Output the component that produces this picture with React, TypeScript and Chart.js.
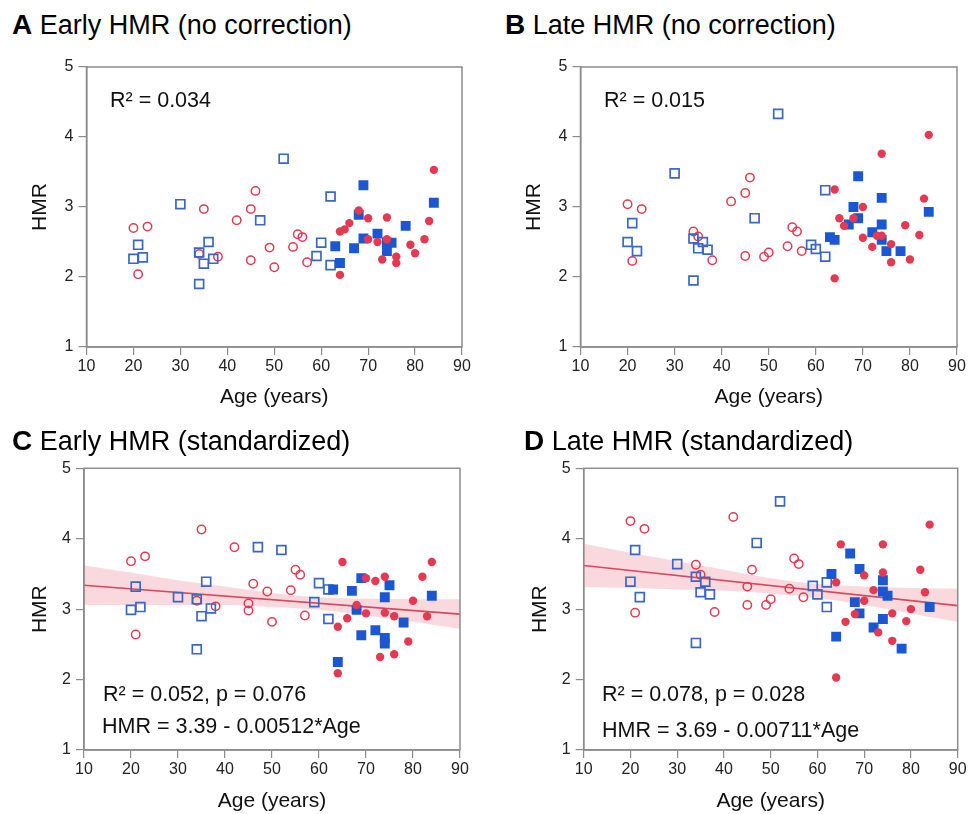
import React, { useEffect, useRef } from "react";
import { Chart, registerables } from "chart.js";
Chart.register(...registerables);

type Pt = [number, number];

// ---------- DATA (age, HMR) ----------
const A_openCircles: Pt[] = [[20,2.70],[23,2.72],[21,2.04],[35,2.97],[34,2.33],[38,2.29],[42,2.81],[45,2.97],[46,3.23],[45,2.24],[49,2.42],[50,2.14],[54,2.43],[55,2.61],[56,2.57],[57,2.21]];
const A_openSquares: Pt[] = [[21,2.46],[20,2.26],[22,2.28],[30,3.04],[36,2.50],[34,2.35],[35,2.19],[37,2.26],[34,1.90],[47,2.81],[52,3.69],[62,3.15],[60,2.49],[59,2.30],[62,2.17]];
const A_filledSquares: Pt[] = [[69,3.31],[84,3.06],[68,2.89],[78,2.73],[72,2.62],[69,2.55],[63,2.44],[67,2.41],[74,2.49],[75,2.49],[74,2.37],[64,2.20]];
const A_filledCircles: Pt[] = [[84,3.53],[68,2.95],[70,2.84],[74,2.85],[66,2.77],[65,2.68],[64,2.65],[83,2.80],[70,2.54],[72,2.50],[74,2.54],[82,2.54],[79,2.46],[80,2.34],[73,2.25],[76,2.29],[76,2.20],[64,2.03]];

const B_openCircles: Pt[] = [[20,3.04],[23,2.97],[21,2.23],[34,2.65],[35,2.58],[38,2.24],[42,3.08],[45,3.20],[46,3.42],[45,2.30],[49,2.29],[50,2.35],[54,2.44],[55,2.71],[56,2.65],[57,2.37]];
const B_openSquares: Pt[] = [[30,3.48],[21,2.77],[20,2.50],[22,2.37],[34,2.55],[36,2.50],[35,2.41],[37,2.39],[34,1.95],[47,2.84],[52,4.33],[62,3.24],[59,2.46],[60,2.40],[62,2.29]];
const B_filledSquares: Pt[] = [[69,3.44],[74,3.13],[84,2.93],[68,3.00],[69,2.84],[67,2.75],[74,2.75],[72,2.64],[63,2.57],[64,2.53],[74,2.53],[75,2.37],[78,2.37]];
const B_filledCircles: Pt[] = [[84,4.03],[74,3.76],[64,3.25],[83,3.12],[70,3.00],[65,2.84],[66,2.73],[68,2.84],[79,2.74],[82,2.60],[70,2.56],[73,2.59],[74,2.59],[72,2.43],[76,2.47],[80,2.25],[76,2.21],[64,1.98]];

const C_openCircles: Pt[] = [[20,3.68],[23,3.75],[21,2.64],[35,4.13],[34,3.12],[38,3.04],[42,3.88],[46,3.36],[45,3.08],[45,2.98],[49,3.25],[50,2.82],[54,3.27],[55,3.56],[56,3.49],[57,2.91]];
const C_openSquares: Pt[] = [[21,3.32],[20,2.99],[22,3.03],[30,3.17],[36,3.39],[34,3.14],[35,2.90],[37,3.01],[34,2.43],[47,3.88],[52,3.84],[60,3.37],[62,3.28],[59,3.10],[62,2.86]];
const C_filledSquares: Pt[] = [[63,3.28],[69,3.44],[75,3.34],[67,3.26],[74,3.17],[84,3.19],[68,2.99],[78,2.81],[69,2.63],[72,2.70],[74,2.59],[74,2.51],[64,2.25]];
const C_filledCircles: Pt[] = [[65,3.67],[84,3.67],[70,3.44],[72,3.40],[74,3.46],[82,3.46],[80,3.12],[68,3.06],[70,2.94],[74,2.95],[76,2.90],[83,2.90],[66,2.87],[64,2.75],[79,2.54],[73,2.32],[76,2.36],[64,2.09]];

const D_openCircles: Pt[] = [[20,4.25],[23,4.14],[21,2.95],[34,3.63],[35,3.49],[38,2.96],[42,4.31],[46,3.56],[45,3.32],[45,3.06],[49,3.06],[50,3.14],[54,3.29],[55,3.72],[56,3.64],[57,3.17]];
const D_openSquares: Pt[] = [[21,3.84],[20,3.39],[22,3.17],[30,3.64],[34,3.46],[36,3.39],[35,3.24],[37,3.21],[34,2.52],[47,3.94],[52,4.53],[59,3.33],[62,3.38],[60,3.21],[62,3.03]];
const D_filledSquares: Pt[] = [[67,3.79],[69,3.57],[63,3.50],[74,3.41],[74,3.25],[75,3.19],[68,3.10],[84,3.03],[69,2.94],[74,2.86],[72,2.74],[64,2.61],[78,2.44]];
const D_filledCircles: Pt[] = [[84,4.20],[65,3.92],[74,3.92],[74,3.52],[82,3.56],[70,3.48],[64,3.38],[72,3.27],[83,3.24],[70,3.12],[80,3.00],[68,2.93],[76,2.94],[66,2.82],[79,2.83],[73,2.67],[76,2.55],[64,2.03]];

// regression lines and 95% bands
const fitAges = [10, 90];
const C_fitLine = [3.34, 2.93];
const D_fitLine = [3.62, 3.05];
const bandAges = [10, 20, 30, 40, 50, 60, 70, 80, 90];
const C_bandUpper = [3.62, 3.52, 3.41, 3.32, 3.23, 3.17, 3.15, 3.14, 3.14];
const C_bandLower = [3.06, 3.06, 3.06, 3.06, 3.03, 2.99, 2.91, 2.82, 2.72];
const D_bandUpper = [3.93, 3.80, 3.68, 3.56, 3.44, 3.36, 3.32, 3.30, 3.29];
const D_bandLower = [3.31, 3.30, 3.28, 3.26, 3.22, 3.16, 3.06, 2.94, 2.82];

const xTicks = [10, 20, 30, 40, 50, 60, 70, 80, 90];
const yTicks = [1, 2, 3, 4, 5];

// ---------- STYLE ----------
const FONT = "'Liberation Sans', Arial, Helvetica, sans-serif";
const RED = "#E33A52";
const BLUE_FILL = "#1B57D3";
const BLUE_OPEN = "#3A66C6";
const BAND = "rgba(243, 170, 182, 0.45)";
const LINE_RED = "#D6485E";
const AXIS = "#8c8c8c";

interface PanelCfg {
  key: string;
  canvas: { left: number; top: number; w: number; h: number };
  area: { l: number; t: number; r: number; b: number };
  hmrX: number;
  openCircles: Pt[];
  openSquares: Pt[];
  filledSquares: Pt[];
  filledCircles: Pt[];
  fit?: number[];
  upper?: number[];
  lower?: number[];
}

const panels: PanelCfg[] = [
  { key: "A", canvas: { left: 0, top: 50, w: 488, h: 364 }, area: { l: 86.5, t: 67, r: 462, b: 347 }, hmrX: 40,
    openCircles: A_openCircles, openSquares: A_openSquares, filledSquares: A_filledSquares, filledCircles: A_filledCircles },
  { key: "B", canvas: { left: 488, top: 50, w: 489, h: 364 }, area: { l: 580.5, t: 67, r: 957, b: 347 }, hmrX: 534,
    openCircles: B_openCircles, openSquares: B_openSquares, filledSquares: B_filledSquares, filledCircles: B_filledCircles },
  { key: "C", canvas: { left: 0, top: 450, w: 488, h: 364 }, area: { l: 84, t: 468.3, r: 460, b: 750 }, hmrX: 40,
    openCircles: C_openCircles, openSquares: C_openSquares, filledSquares: C_filledSquares, filledCircles: C_filledCircles,
    fit: C_fitLine, upper: C_bandUpper, lower: C_bandLower },
  { key: "D", canvas: { left: 488, top: 450, w: 489, h: 364 }, area: { l: 583.7, t: 468.3, r: 957.7, b: 750 }, hmrX: 540,
    openCircles: D_openCircles, openSquares: D_openSquares, filledSquares: D_filledSquares, filledCircles: D_filledCircles,
    fit: D_fitLine, upper: D_bandUpper, lower: D_bandLower },
];

const toXY = (arr: Pt[]) => arr.map(([x, y]) => ({ x, y }));

function Panel({ cfg }: { cfg: PanelCfg }) {
  const ref = useRef<HTMLCanvasElement>(null);
  useEffect(() => {
    const { canvas, area } = cfg;
    const frame = {
      id: "frame" + cfg.key,
      afterDatasetsDraw(chart: any) {
        const { ctx, chartArea: a } = chart;
        ctx.save();
        ctx.strokeStyle = AXIS;
        ctx.lineWidth = 1.5;
        ctx.strokeRect(a.left, a.top, a.right - a.left, a.bottom - a.top);
        ctx.restore();
      },
    };
    const datasets: any[] = [
      { label: "open circles", data: toXY(cfg.openCircles), pointStyle: "circle", pointRadius: 4.2,
        pointBorderColor: RED, pointBackgroundColor: "rgba(0,0,0,0)", pointBorderWidth: 1.5, order: 4 },
      { label: "open squares", data: toXY(cfg.openSquares), pointStyle: "rect", pointRadius: 6.3,
        pointBorderColor: BLUE_OPEN, pointBackgroundColor: "rgba(0,0,0,0)", pointBorderWidth: 1.7, order: 3 },
      { label: "filled squares", data: toXY(cfg.filledSquares), pointStyle: "rect", pointRadius: 7,
        pointBorderColor: BLUE_FILL, pointBackgroundColor: BLUE_FILL, pointBorderWidth: 0, order: 2 },
      { label: "filled circles", data: toXY(cfg.filledCircles), pointStyle: "circle", pointRadius: 4.2,
        pointBorderColor: RED, pointBackgroundColor: RED, pointBorderWidth: 0, order: 1 },
    ];
    if (cfg.fit && cfg.upper && cfg.lower) {
      datasets.push(
        { type: "line", label: "band upper", data: bandAges.map((x, i) => ({ x, y: cfg.upper![i] })),
          showLine: true, borderWidth: 0, borderColor: "rgba(0,0,0,0)", pointRadius: 0, tension: 0.35,
          fill: "+1", backgroundColor: BAND, order: 20 },
        { type: "line", label: "band lower", data: bandAges.map((x, i) => ({ x, y: cfg.lower![i] })),
          showLine: true, borderWidth: 0, borderColor: "rgba(0,0,0,0)", pointRadius: 0, tension: 0.35,
          fill: false, order: 21 },
        { type: "line", label: "fit", data: fitAges.map((x, i) => ({ x, y: cfg.fit![i] })),
          showLine: true, borderWidth: 1.6, borderColor: LINE_RED, pointRadius: 0, fill: false, order: 10 }
      );
    }
    const tickFont = { family: FONT, size: 16 };
    const titleFont = { family: FONT, size: 21 };
    const chart = new Chart(ref.current!, {
      type: "scatter",
      data: { datasets },
      plugins: [frame],
      options: {
        animation: false,
        responsive: false,
        events: [],
        layout: { padding: { top: area.t - canvas.top, right: canvas.left + canvas.w - area.r, left: 0, bottom: 0 } },
        plugins: { legend: { display: false }, tooltip: { enabled: false } },
        scales: {
          x: {
            type: "linear", min: 10, max: 90,
            afterBuildTicks: (s: any) => { s.ticks = xTicks.map((v) => ({ value: v })); },
            afterFit: (s: any) => { s.height = canvas.top + canvas.h - area.b; },
            ticks: { color: "#222", font: tickFont, padding: 2, maxRotation: 0, autoSkip: false },
            grid: { display: true, drawOnChartArea: false, drawTicks: true, tickLength: 8, color: AXIS, lineWidth: 1.2 },
            border: { display: true, color: AXIS, width: 1.5 },
            title: { display: true, text: "Age (years)", color: "#111", font: titleFont, padding: { top: 0, bottom: cfg.key === "A" || cfg.key === "B" ? 4.4 : 0 } },
          },
          y: {
            type: "linear", min: 1, max: 5,
            afterBuildTicks: (s: any) => { s.ticks = yTicks.map((v) => ({ value: v })); },
            afterFit: (s: any) => { s.width = area.l - canvas.left; },
            ticks: { color: "#222", font: tickFont, padding: 5 },
            grid: { display: true, drawOnChartArea: false, drawTicks: true, tickLength: 8, color: AXIS, lineWidth: 1.2 },
            border: { display: true, color: AXIS, width: 1.5 },
            title: { display: true, text: "HMR", color: "#111", font: titleFont, padding: { top: cfg.hmrX - canvas.left - 12.6, bottom: 0 } },
          },
        },
      } as any,
    });
    return () => chart.destroy();
  }, [cfg]);
  const { canvas } = cfg;
  return (
    <canvas
      ref={ref}
      width={canvas.w}
      height={canvas.h}
      style={{ position: "absolute", left: canvas.left, top: canvas.top, width: canvas.w, height: canvas.h }}
    />
  );
}

const titleStyle = (left: number, cy: number): React.CSSProperties => ({
  position: "absolute", left, top: cy - 16, fontFamily: FONT, fontSize: 27, lineHeight: "32px",
  whiteSpace: "nowrap", color: "#000",
});
const noteStyle = (left: number, cy: number): React.CSSProperties => ({
  position: "absolute", left, top: cy - 13, fontFamily: FONT, fontSize: 21.5, lineHeight: "26px",
  whiteSpace: "nowrap", color: "#111",
});

export default function App() {
  return (
    <div style={{ position: "fixed", left: 0, top: 0, width: 977, height: 814, background: "#fff", overflow: "hidden" }}>
      {panels.map((p) => <Panel key={p.key} cfg={p} />)}
      <div style={titleStyle(12, 25)}><b style={{ fontSize: 28 }}>A</b> Early HMR (no correction)</div>
      <div style={titleStyle(505, 25)}><b style={{ fontSize: 28 }}>B</b> Late HMR (no correction)</div>
      <div style={titleStyle(12, 441)}><b style={{ fontSize: 28 }}>C</b> Early HMR (standardized)</div>
      <div style={titleStyle(524, 441)}><b style={{ fontSize: 28 }}>D</b> Late HMR (standardized)</div>
      <div style={noteStyle(110, 100)}>R² = 0.034</div>
      <div style={noteStyle(604, 100)}>R² = 0.015</div>
      <div style={noteStyle(103, 694)}>R² = 0.052, p = 0.076</div>
      <div style={noteStyle(102, 726)}>HMR = 3.39 - 0.00512*Age</div>
      <div style={noteStyle(602, 694)}>R² = 0.078, p = 0.028</div>
      <div style={noteStyle(602, 730)}>HMR = 3.69 - 0.00711*Age</div>
    </div>
  );
}
